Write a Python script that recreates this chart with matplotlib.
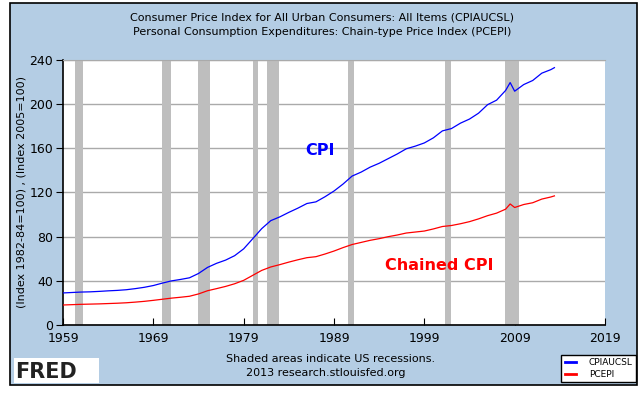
import matplotlib.pyplot as plt
from matplotlib.patches import Rectangle

# year (decimal) and monthly-ish index values
years = [1959, 1960, 1961, 1962, 1963, 1964, 1965, 1966, 1967, 1968, 1969,
         1970, 1971, 1972, 1973, 1974, 1975, 1976, 1977, 1978, 1979, 1980,
         1981, 1982, 1983, 1984, 1985, 1986, 1987, 1988, 1989, 1990, 1991,
         1992, 1993, 1994, 1995, 1996, 1997, 1998, 1999, 2000, 2001, 2002,
         2003, 2004, 2005, 2006, 2007, 2008, 2008.5, 2009, 2010, 2011, 2012,
         2013, 2013.4]
cpi = [29.0, 29.4, 29.8, 30.0, 30.4, 30.9, 31.3, 31.9, 32.9, 34.1, 35.7,
       37.9, 39.9, 41.2, 42.7, 46.6, 52.1, 55.8, 58.7, 62.7, 68.9, 78.0,
       87.2, 94.4, 97.8, 101.9, 105.7, 109.9, 111.4, 116.0, 121.2, 127.5, 134.7,
       138.3, 142.8, 146.3, 150.5, 154.7, 159.4, 161.8, 164.7, 169.3, 175.6, 177.7,
       182.6, 186.3, 191.6, 199.3, 203.4, 212.2, 219.3, 211.5, 217.5, 221.2, 227.8,
       231.0, 232.8]
pce = [18.1, 18.4, 18.7, 18.9, 19.1, 19.4, 19.7, 20.1, 20.7, 21.4, 22.3,
       23.3, 24.3, 25.1, 26.0, 28.1, 31.0, 32.9, 34.9, 37.3, 40.4, 44.9,
       49.4, 52.5, 54.6, 56.9, 59.0, 60.9, 61.8, 64.2, 66.9, 70.0, 72.8,
       74.7, 76.6, 78.1, 79.9, 81.4, 83.2, 84.1, 85.0, 86.9, 89.1, 90.0,
       91.6, 93.5, 96.0, 98.9, 101.2, 104.8, 109.5, 106.3, 109.0, 110.6, 113.9,
       115.8, 116.8]
recessions = [(1960.33, 1961.17), (1969.92, 1970.92), (1973.92, 1975.25),
              (1980.0, 1980.58), (1981.58, 1982.92), (1990.58, 1991.25),
              (2001.25, 2001.92), (2007.92, 2009.5)]
xticks = [1959, 1969, 1979, 1989, 1999, 2009, 2019]
yticks = [0, 40, 80, 120, 160, 200, 240]

bg = '#b4cde4'
plt.rcParams['font.family'] = 'DejaVu Sans'

fig = plt.figure(figsize=(6.44, 3.94), dpi=100)
fig.patch.set_facecolor('white')
fig.patches.append(Rectangle((10 / 644, 9 / 394), 627 / 644, 382 / 394,
                             transform=fig.transFigure, facecolor=bg,
                             edgecolor='black', linewidth=1.2, zorder=-2))

ax = fig.add_axes([63 / 644, 69 / 394, 542 / 644, 265.3 / 394])
ax.set_facecolor('white')
for a, b in recessions:
    ax.axvspan(a, b, color='#bebebe', lw=0, zorder=1)
ax.plot(years, cpi, color='#0000ff', lw=0.9, zorder=3, label='CPIAUCSL')
ax.plot(years, pce, color='#ff0000', lw=0.9, zorder=3, label='PCEPI')

ax.set_xlim(1959, 2019)
ax.set_ylim(0, 240)
ax.set_xticks(xticks)
ax.set_yticks(yticks)
ax.tick_params(axis='both', labelsize=9, colors='black')
ax.tick_params(axis='x', direction='in', length=5, pad=5)
ax.tick_params(axis='y', direction='out', length=5, pad=2)
ax.set_axisbelow(True)
ax.yaxis.grid(True, color='#aaaaaa', lw=1)
ax.spines['right'].set_visible(False)
ax.spines['top'].set_color('#aaaaaa')
ax.spines['left'].set_linewidth(1.2)
ax.spines['bottom'].set_linewidth(1.2)
ax.set_ylabel('(Index 1982-84=100) , (Index 2005=100)', fontsize=8, labelpad=2)

ax.text(1987.5, 158, 'CPI', color='#0000ff', fontsize=11.5, fontweight='bold',
        ha='center', va='center')
ax.text(2000.7, 54, 'Chained CPI', color='#ff0000', fontsize=11.5,
        fontweight='bold', ha='center', va='center')

fig.text(0.5, 1 - 17 / 394, 'Consumer Price Index for All Urban Consumers: All Items (CPIAUCSL)',
         ha='center', va='center', fontsize=8)
fig.text(0.5, 1 - 32 / 394, 'Personal Consumption Expenditures: Chain-type Price Index (PCEPI)',
         ha='center', va='center', fontsize=8)
fig.text(331 / 644, 1 - 359 / 394, 'Shaded areas indicate US recessions.',
         ha='center', va='center', fontsize=8)
fig.text(326 / 644, 1 - 373 / 394, '2013 research.stlouisfed.org',
         ha='center', va='center', fontsize=8)

# FRED logo
fig.patches.append(Rectangle((14 / 644, 1 - 383 / 394), 85 / 644, 25 / 394,
                             transform=fig.transFigure, facecolor='white',
                             edgecolor='none', zorder=-1))
fig.text(15 / 644, 1 - 372 / 394, 'FRED', fontsize=15, fontweight='bold',
         ha='left', va='center', color='#222222')

leg = fig.legend(loc='lower right', bbox_to_anchor=(636 / 644, 1 - 382 / 394),
                 fontsize=6.5, frameon=True, fancybox=False, handlelength=1.3,
                 borderpad=0.35, labelspacing=0.3, handletextpad=1.4,
                 borderaxespad=0, framealpha=1)
leg.get_frame().set_edgecolor('black')
leg.get_frame().set_facecolor('white')
leg.get_frame().set_linewidth(1)
for line in leg.get_lines():
    line.set_linewidth(2)

fig.savefig('out.png', dpi=100)
